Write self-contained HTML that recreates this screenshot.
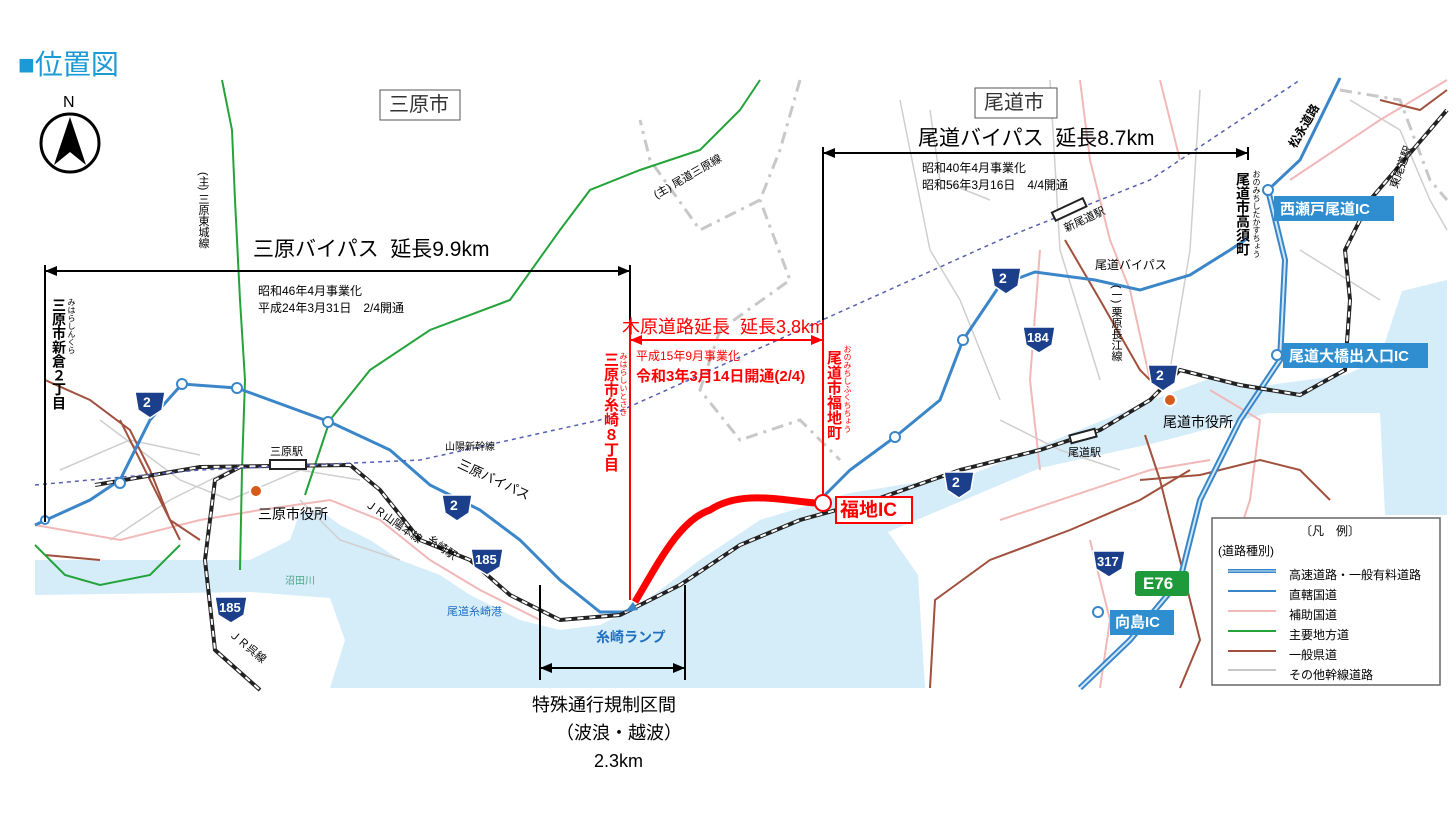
<!DOCTYPE html>
<html><head><meta charset="utf-8"><style>
body{margin:0;width:1456px;height:819px;background:#fff;position:relative;overflow:hidden;font-family:"Liberation Sans","Noto Sans CJK JP",sans-serif;}
.t{position:absolute;white-space:nowrap;color:#000;line-height:1;}
.v{position:absolute;writing-mode:vertical-rl;white-space:nowrap;line-height:1;}
svg{position:absolute;left:0;top:0}
</style></head><body>
<svg width="1456" height="819" viewBox="0 0 1456 819">
<rect x="35" y="78" width="1412" height="610" fill="#d5ecf9"/>
<!-- north land -->
<path d="M35,78 L1447,78 L1447,280 L1402,291 L1379,360 L1345,375 L1261,386 L1211,378 L1147,402 L975,473 L850,493 L760,520 L700,560 L640,605 L600,625 L560,630 L520,620 L470,595 L440,575 L400,560 L370,540 L340,525 L320,510 L300,512 L290,540 L250,560 L35,560 Z" fill="#fff"/>
<!-- south-west land -->
<path d="M35,595 L250,592 L330,598 L345,640 L330,688 L35,688 Z" fill="#fff"/>
<!-- island -->
<path d="M925,688 L918,575 L888,532 L964,500 L1040,468 L1155,443 L1268,413 L1380,413 L1385,515 L1447,515 L1447,688 Z" fill="#fff"/>
<!-- gray roads -->
<g stroke="#cfcfcf" stroke-width="1.5" fill="none">
<path d="M100,420 L180,480 L230,500 L300,470 L360,480"/><path d="M60,470 L130,440 L200,455"/><path d="M110,540 L170,500 L230,470"/>
<path d="M900,100 L930,250 L960,300 L1000,400"/><path d="M1050,80 L1060,250 L1100,380"/>
<path d="M1200,90 L1190,250 L1170,370"/><path d="M1000,420 L1060,450 L1120,470"/>
<path d="M300,500 L340,540 L400,560"/><path d="M930,110 L940,180 L990,200"/>
<path d="M1350,100 L1400,130 L1430,200 L1447,230"/><path d="M1300,250 L1380,300"/>
</g>
<g stroke="#c8c8c8" stroke-width="3" stroke-dasharray="12,6,3,6" fill="none">
<path d="M800,80 L780,150 L760,200 L790,280 L720,330 L700,390 L740,440 L800,420 L840,460"/>
<path d="M760,200 L700,230 L650,160 L640,120"/>
<path d="M1340,90 L1400,100 L1430,180 L1447,200"/>
</g>
<!-- pink auxiliary roads -->
<g stroke="#f2b8b8" stroke-width="2" fill="none">
<path d="M35,525 L120,540 L200,520 L260,510 L330,500 L380,520 L430,560 L480,590 L540,620"/>
<path d="M1150,380 L1130,290 L1110,240 L1090,160 L1080,80"/><path d="M1040,470 L1030,380 L1040,250"/>
<path d="M1210,390 L1260,420 L1250,500 L1230,560"/>
<path d="M1160,80 L1180,160"/><path d="M1290,180 L1380,120 L1447,80"/>
<path d="M1000,520 L1150,470 L1210,460"/><path d="M1090,540 L1110,620 L1100,688"/>
</g>
<!-- brown prefecture roads -->
<g stroke="#a0503c" stroke-width="2" fill="none">
<path d="M45,380 L90,400 L130,430 L150,470 L170,520 L200,540"/>
<path d="M120,420 L150,480 L180,540"/><path d="M45,555 L100,560"/>
<path d="M1065,240 L1100,300 L1140,370 L1150,380"/>
<path d="M1145,435 L1160,480 L1180,560 L1200,640 L1180,688"/>
<path d="M930,688 L935,600 L990,560 L1070,530 L1140,500 L1190,470"/>
<path d="M1140,480 L1200,475 L1260,460 L1300,470 L1330,500"/>
<path d="M1380,100 L1420,110 L1447,90"/>
</g>
<!-- green main roads -->
<g stroke="#23a33a" stroke-width="2" fill="none">
<path d="M222,80 L232,130 L235,200 L240,300 L245,380 L242,470 L240,570"/>
<path d="M305,495 L330,420 L370,370 L430,330 L510,300 L560,230 L590,190 L640,170 L700,150 L740,110 L760,80"/>
<path d="M35,545 L65,575 L100,585 L150,575 L180,545"/>
</g>
<!-- blue national routes -->
<g stroke="#3a86c8" stroke-width="3" fill="none">
<path d="M35,525 L90,500 L120,480 L150,420 L182,384 L237,388 L330,422 L390,450 L430,485 L480,510 L520,540 L560,580 L600,612 L625,612"/>
<path d="M820,500 L850,470 L895,437 L940,400 L963,340 L1000,285 L1035,272 L1095,280 L1140,290 L1190,275 L1230,250 L1248,238"/>
<path d="M1340,78 L1300,160 L1268,190"/>
</g>
<!-- expressway -->
<g fill="none">
<path d="M1268,190 L1285,260 L1280,360 L1240,420 L1200,500 L1180,580 L1130,640 L1080,688" stroke="#3a86c8" stroke-width="6"/>
<path d="M1268,190 L1285,260 L1280,360 L1240,420 L1200,500 L1180,580 L1130,640 L1080,688" stroke="#cfe9f8" stroke-width="2"/>
</g>
<!-- railways -->
<g fill="none">
<path d="M95,485 L200,467 L350,465 L380,490 L420,540 L470,560 L510,595 L560,620 L620,615 L680,585 L740,545 L800,520 L880,498 L960,470 L1040,450 L1100,430 L1150,400 L1180,370 L1240,385 L1300,395 L1345,370 L1350,300 L1345,250 L1370,200 L1447,110" stroke="#222" stroke-width="4"/>
<path d="M95,485 L200,467 L350,465 L380,490 L420,540 L470,560 L510,595 L560,620 L620,615 L680,585 L740,545 L800,520 L880,498 L960,470 L1040,450 L1100,430 L1150,400 L1180,370 L1240,385 L1300,395 L1345,370 L1350,300 L1345,250 L1370,200 L1447,110" stroke="#fff" stroke-width="2" stroke-dasharray="6,6"/>
<path d="M240,467 L215,480 L205,560 L215,650 L260,690" stroke="#222" stroke-width="4"/>
<path d="M240,467 L215,480 L205,560 L215,650 L260,690" stroke="#fff" stroke-width="2" stroke-dasharray="6,6"/>
</g>
<path d="M35,485 L200,470 L420,460 L600,420 L800,330 L1000,240 L1150,180 L1300,80" stroke="#5560b0" stroke-width="1.5" stroke-dasharray="4,4" fill="none"/>
<rect x="270" y="460" width="36" height="9" fill="#fff" stroke="#222" stroke-width="2"/>
<rect x="1052" y="205" width="34" height="9" fill="#fff" stroke="#222" stroke-width="2" transform="rotate(-25 1069 209)"/>
<rect x="1070" y="432" width="26" height="8" fill="#fff" stroke="#222" stroke-width="2" transform="rotate(-15 1083 436)"/>
<g fill="#fff" stroke="#3a86c8" stroke-width="2">
<circle cx="120" cy="483" r="5"/><circle cx="182" cy="384" r="5"/><circle cx="237" cy="388" r="5"/><circle cx="328" cy="422" r="5"/><circle cx="45" cy="520" r="4"/>
<circle cx="895" cy="437" r="5"/><circle cx="963" cy="340" r="5"/><circle cx="1268" cy="190" r="5"/><circle cx="1277" cy="355" r="5"/><circle cx="1098" cy="612" r="5"/>
</g>
<g fill="#d65a1a" stroke="#fff" stroke-width="2"><circle cx="256" cy="491" r="6"/><circle cx="1170" cy="400" r="6"/></g>
<g fill="#1b3f8a" stroke="#fff" stroke-width="1.5">
<path d="M135,392 h30 l-3,18 l-12,8 l-12,-8 z"/><path d="M442,495 h30 l-3,18 l-12,8 l-12,-8 z"/>
<path d="M944,472 h30 l-3,18 l-12,8 l-12,-8 z"/><path d="M1148,365 h30 l-3,18 l-12,8 l-12,-8 z"/>
<path d="M991,268 h30 l-3,18 l-12,8 l-12,-8 z"/><path d="M1023,327 h32 l-3,18 l-13,8 l-13,-8 z"/>
<path d="M471,549 h32 l-3,18 l-13,8 l-13,-8 z"/><path d="M215,597 h32 l-3,18 l-13,8 l-13,-8 z"/>
<path d="M1093,551 h32 l-3,18 l-13,8 l-13,-8 z"/>
</g>
<rect x="1135" y="571" width="54" height="25" rx="3" fill="#1e9a3a"/>
<g fill="#2e8ed0"><rect x="1274" y="196" width="120" height="25"/><rect x="1283" y="343" width="145" height="25"/><rect x="1110" y="610" width="64" height="25"/></g>
<path d="M635,602 C660,560 680,520 710,510 C740,490 780,500 815,503" stroke="#f00" stroke-width="7" fill="none"/>
<circle cx="823" cy="503" r="8" fill="#fff" stroke="#f00" stroke-width="2"/>
<path d="M625,612 l8,-10 l5,8 z" fill="#3a86c8"/>
<g stroke="#000" stroke-width="2" fill="none">
<line x1="45" y1="271" x2="630" y2="271"/><line x1="45" y1="265" x2="45" y2="522"/><line x1="630" y1="265" x2="630" y2="320"/>
<line x1="823" y1="153" x2="1248" y2="153"/><line x1="823" y1="147" x2="823" y2="320"/><line x1="1248" y1="147" x2="1248" y2="160"/>
<line x1="540" y1="668" x2="685" y2="668"/><line x1="540" y1="585" x2="540" y2="680"/><line x1="685" y1="585" x2="685" y2="680"/>
</g>
<g fill="#000"><path d="M45,271 l12,-5 v10 z"/><path d="M630,271 l-12,-5 v10 z"/><path d="M823,153 l12,-5 v10 z"/><path d="M1248,153 l-12,-5 v10 z"/><path d="M540,668 l12,-5 v10 z"/><path d="M685,668 l-12,-5 v10 z"/></g>
<g stroke="#f00" stroke-width="2"><line x1="630" y1="320" x2="630" y2="600"/><line x1="823" y1="320" x2="823" y2="495"/><line x1="630" y1="340" x2="823" y2="340"/></g>
<g fill="#f00"><path d="M630,340 l12,-5 v10 z"/><path d="M823,340 l-12,-5 v10 z"/></g>
<circle cx="70" cy="143" r="29" fill="#fff" stroke="#000" stroke-width="3"/>
<path d="M70,117 L54,165 L70,152 L86,165 Z" fill="#000"/>
<rect x="1212" y="518" width="228" height="167" fill="#fff" stroke="#666" stroke-width="1.5"/>
<g fill="none"><line x1="1228" y1="571" x2="1276" y2="571" stroke="#3a86c8" stroke-width="4"/><line x1="1228" y1="571" x2="1276" y2="571" stroke="#cfe9f8" stroke-width="1"/>
<line x1="1228" y1="591" x2="1276" y2="591" stroke="#3a86c8" stroke-width="2"/><line x1="1228" y1="611" x2="1276" y2="611" stroke="#f2b8b8" stroke-width="2"/>
<line x1="1228" y1="631" x2="1276" y2="631" stroke="#23a33a" stroke-width="2"/><line x1="1228" y1="651" x2="1276" y2="651" stroke="#a0503c" stroke-width="2"/><line x1="1228" y1="670" x2="1276" y2="670" stroke="#c8c8c8" stroke-width="2"/></g>
<rect x="380" y="90" width="80" height="30" fill="#fff" stroke="#555"/><rect x="975" y="88" width="82" height="30" fill="#fff" stroke="#555"/>
<rect x="836" y="497" width="76" height="26" fill="#fff" stroke="#f00" stroke-width="2"/>
</svg>
<div class="t" style="left:18px;top:51px;font-size:28px;color:#1a9ad6">■位置図</div>
<div class="t" style="left:63px;top:95px;font-size:16px">N</div>
<div class="t" style="left:389px;top:95px;font-size:20px;color:#333">三原市</div>
<div class="t" style="left:984px;top:93px;font-size:20px;color:#333">尾道市</div>
<div class="t" style="left:253px;top:239px;font-size:21px">三原バイパス&nbsp; 延長9.9km</div>
<div class="t" style="left:258px;top:283px;font-size:12px;line-height:17px">昭和46年4月事業化<br>平成24年3月31日　2/4開通</div>
<div class="t" style="left:918px;top:128px;font-size:21px">尾道バイパス&nbsp; 延長8.7km</div>
<div class="t" style="left:922px;top:160px;font-size:12px;line-height:17px">昭和40年4月事業化<br>昭和56年3月16日　4/4開通</div>
<div class="t" style="left:622px;top:318px;font-size:18px;color:#f00">木原道路延長&nbsp; 延長3.8km</div>
<div class="t" style="left:636px;top:350px;font-size:12px;color:#f00">平成15年9月事業化</div>
<div class="t" style="left:636px;top:369px;font-size:15px;color:#f00;font-weight:bold">令和3年3月14日開通(2/4)</div>
<div class="v" style="left:603px;top:352px;font-size:15px;color:#f00;font-weight:bold">三原市糸崎８丁目</div>
<div class="v" style="left:619px;top:352px;font-size:8px;color:#f00">みはらしいとさき</div>
<div class="v" style="left:826px;top:350px;font-size:15px;color:#f00;font-weight:bold">尾道市福地町</div>
<div class="v" style="left:843px;top:345px;font-size:8px;color:#f00">おのみちしふくちちょう</div>
<div class="v" style="left:52px;top:298px;font-size:14px;font-weight:bold">三原市新倉２丁目</div>
<div class="v" style="left:67px;top:298px;font-size:8px">みはらしんくら</div>
<div class="v" style="left:1236px;top:172px;font-size:14px;font-weight:bold">尾道市高須町</div>
<div class="v" style="left:1252px;top:170px;font-size:8px">おのみちしたかすちょう</div>
<div class="v" style="left:197px;top:172px;font-size:11px">(主) 三原東城線</div>
<div class="t" style="left:650px;top:172px;font-size:11px;transform:rotate(-30deg)">(主) 尾道三原線</div>
<div class="t" style="left:840px;top:501px;font-size:19px;color:#f00;font-weight:bold">福地IC</div>
<div class="t" style="left:532px;top:696px;font-size:18px">特殊通行規制区間</div>
<div class="t" style="left:556px;top:724px;font-size:18px">（波浪・越波）</div>
<div class="t" style="left:594px;top:752px;font-size:18px">2.3km</div>
<div class="t" style="left:596px;top:630px;font-size:14px;color:#1f70c0;font-weight:bold">糸崎ランプ</div>
<div class="t" style="left:447px;top:607px;font-size:11px;color:#1f70c0">尾道糸崎港</div>
<div class="t" style="left:270px;top:447px;font-size:11px">三原駅</div>
<div class="t" style="left:258px;top:507px;font-size:14px">三原市役所</div>
<div class="t" style="left:1163px;top:415px;font-size:14px">尾道市役所</div>
<div class="t" style="left:1063px;top:215px;font-size:11px;transform:rotate(-25deg)">新尾道駅</div>
<div class="t" style="left:1068px;top:448px;font-size:11px">尾道駅</div>
<div class="t" style="left:445px;top:443px;font-size:10px">山陽新幹線</div>
<div class="t" style="left:455px;top:473px;font-size:13px;transform:rotate(25deg)">三原バイパス</div>
<div class="t" style="left:1095px;top:259px;font-size:12px">尾道バイパス</div>
<div class="t" style="left:360px;top:517px;font-size:11px;transform:rotate(35deg)">ＪＲ山陽本線</div>
<div class="t" style="left:425px;top:543px;font-size:11px;transform:rotate(35deg)">糸崎駅</div>
<div class="t" style="left:225px;top:642px;font-size:11px;transform:rotate(40deg)">ＪＲ呉線</div>
<div class="t" style="left:285px;top:577px;font-size:10px;color:#4a8">沼田川</div>
<div class="v" style="left:1110px;top:285px;font-size:11px">(一) 栗原長江線</div>
<div class="t" style="left:1280px;top:120px;font-size:12px;font-weight:bold;transform:rotate(-60deg)">松永道路</div>
<div class="t" style="left:1380px;top:162px;font-size:11px;transform:rotate(-70deg)">東尾道駅</div>
<div class="t" style="left:143px;top:395px;font-size:14px;color:#fff;font-weight:bold">2</div>
<div class="t" style="left:450px;top:498px;font-size:14px;color:#fff;font-weight:bold">2</div>
<div class="t" style="left:952px;top:475px;font-size:14px;color:#fff;font-weight:bold">2</div>
<div class="t" style="left:1156px;top:368px;font-size:14px;color:#fff;font-weight:bold">2</div>
<div class="t" style="left:999px;top:271px;font-size:14px;color:#fff;font-weight:bold">2</div>
<div class="t" style="left:1027px;top:331px;font-size:13px;color:#fff;font-weight:bold">184</div>
<div class="t" style="left:475px;top:553px;font-size:13px;color:#fff;font-weight:bold">185</div>
<div class="t" style="left:219px;top:601px;font-size:13px;color:#fff;font-weight:bold">185</div>
<div class="t" style="left:1097px;top:555px;font-size:13px;color:#fff;font-weight:bold">317</div>
<div class="t" style="left:1143px;top:575px;font-size:17px;color:#fff;font-weight:bold">E76</div>
<div class="t" style="left:1280px;top:202px;font-size:15px;color:#fff;font-weight:bold">西瀬戸尾道IC</div>
<div class="t" style="left:1289px;top:349px;font-size:15px;color:#fff;font-weight:bold">尾道大橋出入口IC</div>
<div class="t" style="left:1115px;top:615px;font-size:15px;color:#fff;font-weight:bold">向島IC</div>
<div class="t" style="left:1300px;top:525px;font-size:12px">〔凡　例〕</div>
<div class="t" style="left:1218px;top:545px;font-size:12px">(道路種別)</div>
<div class="t" style="left:1289px;top:565px;font-size:12px;line-height:20px">高速道路・一般有料道路<br>直轄国道<br>補助国道<br>主要地方道<br>一般県道<br>その他幹線道路</div>
</body></html>
